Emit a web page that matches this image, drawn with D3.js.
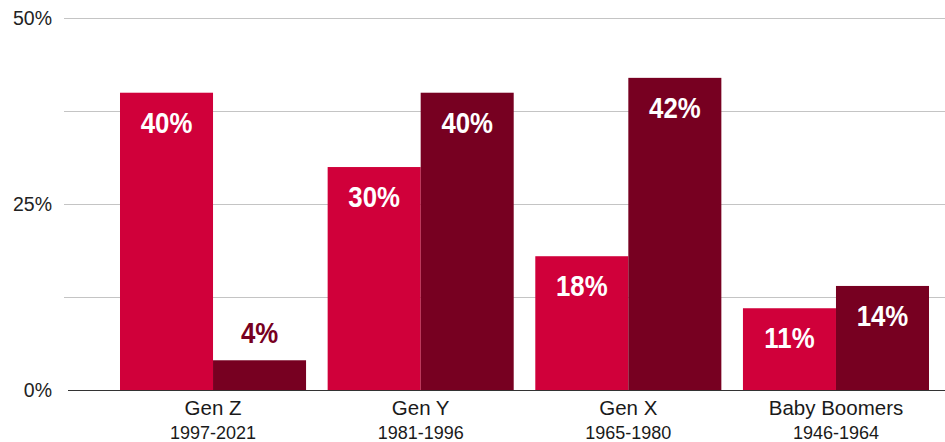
<!DOCTYPE html>
<html>
<head>
<meta charset="utf-8">
<script src="https://cdn.jsdelivr.net/npm/d3@7/dist/d3.min.js"></script>
<style>
  html, body { margin: 0; padding: 0; background: #fff; }
  svg { display: block; font-family: "Liberation Sans", Arial, Helvetica, sans-serif; }
</style>
</head>
<body>
<svg id="chart" width="945" height="442"></svg>
<script>
// Generations and their birth-year ranges
const categories = ["Gen Z", "Gen Y", "Gen X", "Baby Boomers"];
const yearRanges = ["1997-2021", "1981-1996", "1965-1980", "1946-1964"];

// Two series of percentages per generation
const seriesNames = ["first", "second"];
const firstValues = [40, 30, 18, 11];
const secondValues = [4, 40, 42, 14];

// Axis ticks
const gridTicks = [0, 12.5, 25, 37.5, 50];
const labelTicks = [0, 25, 50];

const colors = { first: "#D0003A", second: "#770021" };

const svg = d3.select("#chart");
const width = 945;

const y = d3.scaleLinear().domain([0, 50]).range([390, 18.4]);

const x0 = d3.scaleBand()
  .domain(categories)
  .range([109.2, 939.8])
  .paddingInner(0.104)
  .paddingOuter(0.052);

const x1 = d3.scaleBand()
  .domain(seriesNames)
  .range([0, x0.bandwidth()])
  .padding(0);

const rows = categories.map((c, i) => ({
  category: c,
  years: yearRanges[i],
  values: [
    { key: "first", value: firstValues[i] },
    { key: "second", value: secondValues[i] }
  ]
}));

// Horizontal gridlines
svg.append("g")
  .selectAll("line")
  .data(gridTicks.filter(t => t !== 0))
  .join("line")
  .attr("x1", 64)
  .attr("x2", width)
  .attr("y1", d => Math.round(y(d)) + 0.5)
  .attr("y2", d => Math.round(y(d)) + 0.5)
  .attr("stroke", "#c4c4c4")
  .attr("stroke-width", 1.2);

// Y-axis labels
svg.append("g")
  .selectAll("text")
  .data(labelTicks)
  .join("text")
  .attr("x", 52)
  .attr("y", d => y(d) + 7)
  .attr("text-anchor", "end")
  .attr("font-size", "19.5px")
  .attr("fill", "#222")
  .text(d => d + "%");

// Bars
const groups = svg.append("g")
  .selectAll("g")
  .data(rows)
  .join("g")
  .attr("transform", d => `translate(${x0(d.category)},0)`);

groups.selectAll("rect")
  .data(d => d.values)
  .join("rect")
  .attr("x", d => x1(d.key))
  .attr("width", x1.bandwidth())
  .attr("y", d => y(d.value))
  .attr("height", d => y(0) - y(d.value))
  .attr("fill", d => colors[d.key]);

// Value labels: inside the bar when it is tall enough, otherwise above it
groups.selectAll("text.value")
  .data(d => d.values)
  .join("text")
  .attr("class", "value")
  .attr("transform", d => {
    const h = y(0) - y(d.value);
    const cx = x1(d.key) + x1.bandwidth() / 2;
    const by = h > 50 ? y(d.value) + 40 : y(d.value) - 17;
    return `translate(${cx},${by}) scale(0.86,1)`;
  })
  .attr("text-anchor", "middle")
  .attr("font-size", "30px")
  .attr("font-weight", "bold")
  .attr("fill", d => (y(0) - y(d.value)) > 50 ? "#fff" : colors[d.key])
  .text(d => d.value + "%");

// Baseline
svg.append("line")
  .attr("x1", 68)
  .attr("x2", width)
  .attr("y1", y(0) + 0.5)
  .attr("y2", y(0) + 0.5)
  .attr("stroke", "#333")
  .attr("stroke-width", 1.2);

// Category labels with year ranges
const xl = svg.append("g")
  .selectAll("g")
  .data(rows)
  .join("g")
  .attr("transform", d => `translate(${x0(d.category) + x0.bandwidth() / 2},0)`);

xl.append("text")
  .attr("y", 415)
  .attr("text-anchor", "middle")
  .attr("font-size", "20.5px")
  .attr("fill", "#1a1a1a")
  .text(d => d.category);

xl.append("text")
  .attr("y", 439)
  .attr("text-anchor", "middle")
  .attr("font-size", "18px")
  .attr("fill", "#1a1a1a")
  .text(d => d.years);
</script>
</body>
</html>
